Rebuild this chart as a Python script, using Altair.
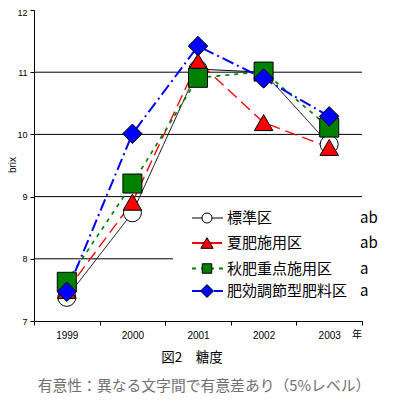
import altair as alt
import pandas as pd

# ---- data ----
years = ["1999", "2000", "2001", "2002", "2003"]
series_names = ["標準区", "夏肥施用区", "秋肥重点施用区", "肥効調節型肥料区"]
sig_letters = ["ab", "ab", "a", "a"]
v_standard = [7.38, 8.74, 11.05, 11.00, 9.84]
v_summer = [7.49, 8.91, 11.17, 10.19, 9.79]
v_autumn = [7.63, 9.21, 10.91, 11.01, 10.11]
v_controlled = [7.47, 10.01, 11.42, 10.90, 10.29]
grid_values = [8, 9, 10, 11]
y_ticks = [7, 8, 9, 10, 11, 12]

all_values = [v_standard, v_summer, v_autumn, v_controlled]
rows = []
for name, vals in zip(series_names, all_values):
    for yr, v in zip(years, vals):
        rows.append({"year": yr, "series": name, "value": v})
df = pd.DataFrame(rows)
df_grid = pd.DataFrame({"v": grid_values})

# ---- styles ----
line_colors = ["#000000", "#ff0000", "#008000", "#0000ff"]
fill_colors = ["#ffffff", "#ff0000", "#008000", "#0000ff"]
shapes = ["circle", "triangle-up", "square", "diamond"]
dashes = [[1, 0], [12, 6], [4, 5], [12, 4, 2, 4]]
widths = [1, 2, 2, 2]
sizes = [324, 380, 361, 441]
legend_sizes = [100, 150, 90, 169]
legend_y = [208, 233, 258.5, 281]

JP = "Noto Sans CJK JP"
LAT = "Liberation Sans"

x_scale = alt.Scale(type="band", domain=years, paddingInner=0, paddingOuter=0)
y_scale = alt.Scale(domain=[7, 12], nice=False, zero=False)
x_axis = alt.Axis(title=None, labelFont=LAT, labelFontSize=10, labelColor="black",
                  labelAngle=0, tickBand="extent", tickSize=4, tickColor="black",
                  domainColor="black", labelPadding=5, grid=False)
y_axis = alt.Axis(title=None, values=y_ticks, format="d", labelFont=LAT, labelFontSize=9,
                  labelColor="black", tickSize=4, tickColor="black", domainColor="black",
                  labelPadding=3, grid=False,
                  labelOffset={"condition": {"test": "datum.value === 12", "value": 2}, "value": 0})

X = alt.X("year:N", scale=x_scale, axis=x_axis, bandPosition=0.5, sort=years)
Y = alt.Y("value:Q", scale=y_scale, axis=y_axis)

grid = alt.Chart(df_grid).mark_rule(color="black", strokeWidth=1).encode(
    y=alt.Y("v:Q", scale=y_scale, axis=y_axis)
)

one = pd.DataFrame({"k": [0]})
legend_bg = alt.Chart(one).mark_rect(fill="white").encode(
    x=alt.value(139), x2=alt.value(330), y=alt.value(188), y2=alt.value(296)
)

lines = alt.Chart(df).mark_line().encode(
    x=X, y=Y,
    color=alt.Color("series:N", scale=alt.Scale(domain=series_names, range=line_colors), legend=None),
    strokeDash=alt.StrokeDash("series:N", scale=alt.Scale(domain=series_names, range=dashes), legend=None),
    strokeWidth=alt.StrokeWidth("series:N", scale=alt.Scale(domain=series_names, range=widths), legend=None),
    detail="series:N",
)

points = alt.Chart(df).mark_point(filled=True, opacity=1, stroke="black", strokeWidth=1).encode(
    x=X, y=Y,
    shape=alt.Shape("series:N", scale=alt.Scale(domain=series_names, range=shapes), legend=None),
    fill=alt.Fill("series:N", scale=alt.Scale(domain=series_names, range=fill_colors), legend=None),
    size=alt.Size("series:N", scale=alt.Scale(domain=series_names, range=sizes), legend=None),
)

layers = [grid, legend_bg, lines, points]

for i, name in enumerate(series_names):
    d = pd.DataFrame({"name": [name], "letter": [sig_letters[i]]})
    yy = legend_y[i]
    layers.append(alt.Chart(d).mark_rule(color=line_colors[i], strokeDash=dashes[i],
                                         strokeWidth=widths[i]).encode(
        x=alt.value(158), x2=alt.value(189), y=alt.value(yy)))
    layers.append(alt.Chart(d).mark_point(shape=shapes[i], filled=True, opacity=1,
                                          fill=fill_colors[i], stroke="black", strokeWidth=1,
                                          size=legend_sizes[i]).encode(
        x=alt.value(173), y=alt.value(yy)))
    layers.append(alt.Chart(d).mark_text(font=JP, fontSize=15, align="left", baseline="middle",
                                         color="black").encode(
        x=alt.value(193), y=alt.value(yy), text="name:N"))
    layers.append(alt.Chart(d).mark_text(font=JP, fontSize=15, align="left", baseline="middle",
                                         color="black").encode(
        x=alt.value(326), y=alt.value(yy), text="letter:N"))

texts = pd.DataFrame({"t": ["年"]})
layers.append(alt.Chart(texts).mark_text(font=JP, fontSize=10, align="center", baseline="middle",
                                         color="black").encode(
    x=alt.value(323), y=alt.value(325), text="t:N"))
title_df = pd.DataFrame({"t": ["図2　糖度"]})
layers.append(alt.Chart(title_df).mark_text(font=JP, fontSize=13.5, align="center", baseline="middle",
                                            color="black").encode(
    x=alt.value(158), y=alt.value(348), text="t:N"))
cap_df = pd.DataFrame({"t": ["有意性：異なる文字間で有意差あり（5%レベル）"]})
layers.append(alt.Chart(cap_df).mark_text(font=JP, fontSize=14.8, align="center", baseline="middle",
                                          color="#707070").encode(
    x=alt.value(170), y=alt.value(377), text="t:N"))
brix_df = pd.DataFrame({"t": ["brix"]})
layers.append(alt.Chart(brix_df).mark_text(font=LAT, fontSize=10, align="center", baseline="middle",
                                           angle=270, color="black").encode(
    x=alt.value(-21), y=alt.value(155), text="t:N"))

chart = alt.layer(*layers).properties(
    width=328, height=311,
    autosize=alt.AutoSizeParams(type="none"),
    padding={"left": 26, "top": 2, "right": 26, "bottom": 77},
).configure_view(stroke=None)

chart.save("out.html", embed_options={"renderer": "svg", "actions": False})
